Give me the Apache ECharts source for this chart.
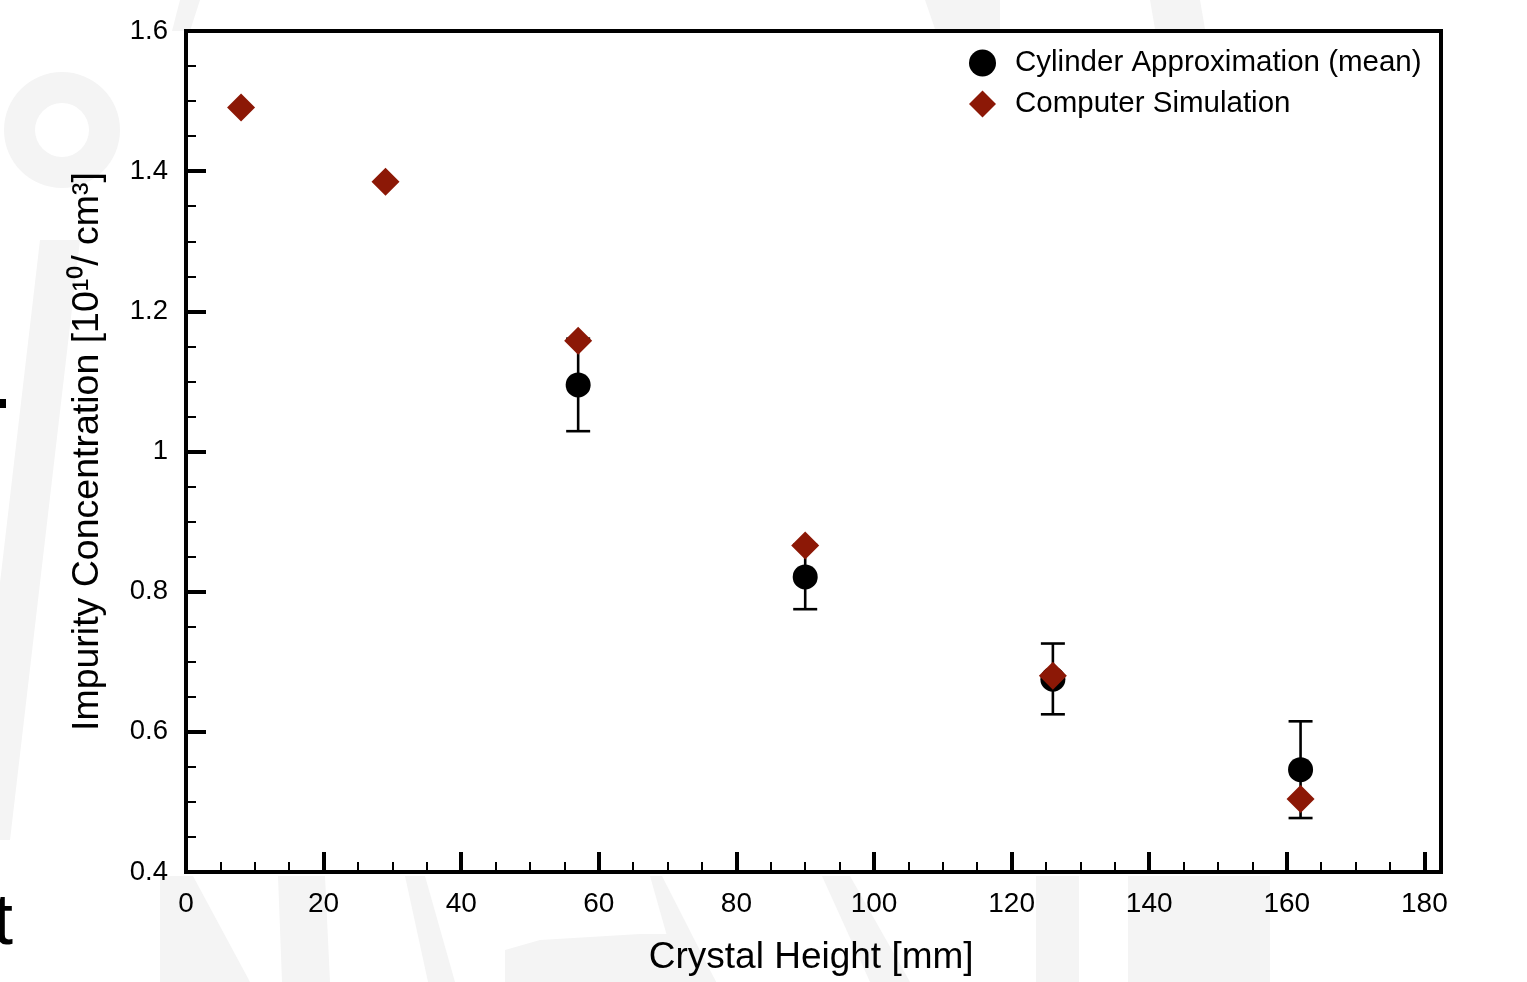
<!DOCTYPE html>
<html>
<head>
<meta charset="utf-8">
<script src="https://cdn.jsdelivr.net/npm/echarts@6/dist/echarts.min.js"></script>
<style>
html,body{margin:0;padding:0;background:#fff;}
#chart{width:1527px;height:982px;}
</style>
</head>
<body>
<div id="chart"></div>
<script>
// ---- data ----
var cylinderX = [57, 90, 126, 162];
var cylinderMean = [1.095, 0.821, 0.675, 0.546];
var cylinderLow = [1.029, 0.775, 0.625, 0.477];
var cylinderHigh = [1.161, 0.867, 0.726, 0.615];

var simX = [8, 29, 57, 90, 126, 162];
var simY = [1.491, 1.385, 1.158, 0.866, 0.680, 0.504];

var seriesNames = ['Cylinder Approximation (mean)', 'Computer Simulation'];
var xTitle = 'Crystal Height [mm]';
var yTitle = 'Impurity Concentration [10\u00b9\u2070/ cm\u00b3]';

// ---- build ----
var cylData = cylinderX.map(function (x, i) { return [x, cylinderMean[i]]; });
var errData = cylinderX.map(function (x, i) { return [x, cylinderLow[i], cylinderHigh[i]]; });
var simData = simX.map(function (x, i) { return [x, simY[i]]; });

var FONT = '"Liberation Sans", Arial, Helvetica, sans-serif';
var WM = '#f4f4f4';

var chart = echarts.init(document.getElementById('chart'), null, {renderer: 'canvas'});

var option = {
  backgroundColor: '#ffffff',
  animation: false,
  textStyle: {fontFamily: FONT},
  grid: {left: 186, top: 31, width: 1238.4, height: 841, containLabel: false},
  legend: {
    orient: 'vertical',
    left: 964,
    top: 43,
    itemWidth: 27,
    itemHeight: 27,
    itemGap: 11,
    data: seriesNames,
    textStyle: {fontFamily: FONT, fontSize: 29.5, color: '#000', padding: [0, 0, 0, 14]}
  },
  xAxis: {
    type: 'value',
    min: 0, max: 180, interval: 20,
    axisLine: {show: false},
    axisTick: {show: true, inside: true, length: 20, lineStyle: {color: '#000', width: 4}},
    minorTick: {show: true, splitNumber: 4, length: 10, lineStyle: {color: '#000', width: 2}},
    splitLine: {show: false},
    minorSplitLine: {show: false},
    axisLabel: {color: '#000', fontSize: 28, fontFamily: FONT, margin: 18},
    name: xTitle,
    nameLocation: 'middle',
    nameGap: 67,
    nameTextStyle: {color: '#000', fontSize: 37, fontFamily: FONT, padding: [0, 0, 0, 12]}
  },
  yAxis: {
    type: 'value',
    min: 0.4, max: 1.6, interval: 0.2,
    axisLine: {show: false},
    axisTick: {show: true, inside: true, length: 20, lineStyle: {color: '#000', width: 4}},
    minorTick: {show: true, splitNumber: 4, length: 10, lineStyle: {color: '#000', width: 2}},
    splitLine: {show: false},
    minorSplitLine: {show: false},
    axisLabel: {color: '#000', fontSize: 27.5, fontFamily: FONT, margin: 18},
    name: yTitle,
    nameLocation: 'middle',
    nameGap: 79,
    nameTextStyle: {color: '#000', fontSize: 37.5, fontFamily: FONT}
  },
  graphic: {
    elements: [
      // faint watermark shapes
      {type: 'ring', z: -20, shape: {cx: 62, cy: 130, r: 58, r0: 27}, style: {fill: WM}},
      {type: 'polygon', z: -20, shape: {points: [[40, 240], [80, 240], [10, 840], [-30, 840]]}, style: {fill: WM}},
      {type: 'polygon', z: -20, shape: {points: [[180, 0], [200, 0], [190, 31], [172, 31]]}, style: {fill: WM}},
      {type: 'polygon', z: -20, shape: {points: [[160, 876], [193, 876], [250, 982], [160, 982]]}, style: {fill: WM}},
      {type: 'polygon', z: -20, shape: {points: [[278, 876], [325, 876], [330, 982], [282, 982]]}, style: {fill: WM}},
      {type: 'polygon', z: -20, shape: {points: [[405, 876], [425, 876], [455, 982], [428, 982]]}, style: {fill: WM}},
      {type: 'polygon', z: -20, shape: {points: [[505, 950], [540, 940], [640, 934], [690, 934], [716, 982], [505, 982]]}, style: {fill: WM}},
      {type: 'polygon', z: -20, shape: {points: [[650, 876], [662, 876], [716, 982], [680, 982]]}, style: {fill: WM}},
      {type: 'polygon', z: -20, shape: {points: [[822, 876], [850, 876], [910, 982], [870, 982]]}, style: {fill: WM}},
      {type: 'rect', z: -20, shape: {x: 1036, y: 876, width: 43, height: 106}, style: {fill: WM}},
      {type: 'rect', z: -20, shape: {x: 1128, y: 876, width: 142, height: 106}, style: {fill: WM}},
      {type: 'polygon', z: -20, shape: {points: [[925, 0], [1000, 0], [1000, 29], [935, 29]]}, style: {fill: WM}},
      {type: 'polygon', z: -20, shape: {points: [[1150, 0], [1200, 0], [1205, 29], [1155, 29]]}, style: {fill: WM}},
      // plot area white fill
      {type: 'rect', z: -10, shape: {x: 186, y: 31, width: 1255, height: 841}, style: {fill: '#ffffff'}},
      // plot frame
      {type: 'rect', z: 10, shape: {x: 186, y: 31, width: 1255, height: 841}, style: {fill: 'none', stroke: '#000', lineWidth: 4}},
      // slide artifacts at the left edge
      {type: 'rect', z: 10, shape: {x: 0, y: 399, width: 6, height: 9}, style: {fill: '#000'}},
      {type: 'text', z: 10, x: -7, y: 960, style: {text: 't', fill: '#000', font: '72px "Liberation Sans", Arial, sans-serif', textVerticalAlign: 'bottom'}}
    ]
  },
  series: [
    {
      type: 'custom',
      name: 'errorbars',
      z: 3,
      data: errData,
      encode: {x: 0, y: [1, 2]},
      renderItem: function (params, api) {
        var x = api.value(0);
        var lo = api.coord([x, api.value(1)]);
        var hi = api.coord([x, api.value(2)]);
        var hw = 12;
        var st = {stroke: '#000', lineWidth: 2.6};
        return {
          type: 'group',
          children: [
            {type: 'line', shape: {x1: lo[0], y1: lo[1], x2: hi[0], y2: hi[1]}, style: st},
            {type: 'line', shape: {x1: lo[0] - hw, y1: lo[1], x2: lo[0] + hw, y2: lo[1]}, style: st},
            {type: 'line', shape: {x1: hi[0] - hw, y1: hi[1], x2: hi[0] + hw, y2: hi[1]}, style: st}
          ]
        };
      }
    },
    {
      type: 'scatter',
      name: seriesNames[0],
      z: 4,
      data: cylData,
      symbol: 'circle',
      symbolSize: 25,
      itemStyle: {color: '#000000', opacity: 1}
    },
    {
      type: 'scatter',
      name: seriesNames[1],
      z: 5,
      data: simData,
      symbol: 'diamond',
      symbolSize: 28,
      itemStyle: {color: '#8c1806', opacity: 1}
    }
  ]
};
chart.setOption(option);
</script>
</body>
</html>
